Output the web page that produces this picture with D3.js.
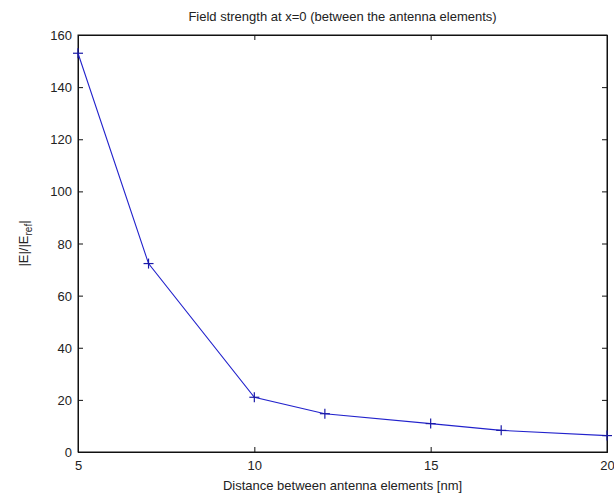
<!DOCTYPE html>
<html><head><meta charset="utf-8">
<script src="https://cdn.jsdelivr.net/npm/d3@7"></script>
<style>body{margin:0;background:#fff}svg{display:block}text{font-family:"Liberation Sans",Arial,sans-serif;fill:#222}</style>
</head><body>
<svg id="c" width="614" height="497"></svg>
<script>
const distances = [5, 7, 10, 12, 15, 17, 20];
const fieldStrength = [153, 72.3, 21, 14.7, 10.9, 8.3, 6.3];
const xTicks = [5, 10, 15, 20];
const yTicks = [0, 20, 40, 60, 80, 100, 120, 140, 160];
const titleText = "Field strength at x=0 (between the antenna elements)";
const xLabelText = "Distance between antenna elements [nm]";

const W = 614, H = 497;
const m = {left: 78, right: 7, top: 35, bottom: 45};
const svg = d3.select("#c");
const x = d3.scaleLinear().domain([5, 20]).range([m.left, W - m.right]);
const y = d3.scaleLinear().domain([0, 160]).range([H - m.bottom, m.top]);
const fs = 13;

// box
svg.append("rect").attr("x", x(5)).attr("y", y(160))
  .attr("width", x(20) - x(5)).attr("height", y(0) - y(160))
  .attr("fill", "#fff").attr("stroke", "#111").attr("stroke-width", 1);

const tl = 5;
// axes with inward ticks
const xb = svg.append("g").attr("transform", `translate(0,${y(0)})`)
  .call(d3.axisBottom(x).tickValues(xTicks).tickSize(-tl).tickPadding(9).tickFormat(d3.format("d")));
const xt = svg.append("g").attr("transform", `translate(0,${y(160)})`)
  .call(d3.axisTop(x).tickValues(xTicks).tickSize(-tl).tickFormat(""));
const yl = svg.append("g").attr("transform", `translate(${x(5)},0)`)
  .call(d3.axisLeft(y).tickValues(yTicks).tickSize(-tl).tickPadding(6).tickFormat(d3.format("d")));
const yr = svg.append("g").attr("transform", `translate(${x(20)},0)`)
  .call(d3.axisRight(y).tickValues(yTicks).tickSize(-tl).tickFormat(""));
[xb, xt, yl, yr].forEach(g => {
  g.select(".domain").attr("stroke", "#111");
  g.selectAll(".tick line").attr("stroke", "#111");
  g.selectAll("text").attr("font-size", fs).attr("font-family", '"Liberation Sans",Arial,sans-serif').attr("fill", "#222");
});
yl.selectAll("text").attr("dy", "0.35em");

// line
svg.append("path").datum(distances.map((d, i) => [d, fieldStrength[i]]))
  .attr("fill", "none").attr("stroke", "#2222cc").attr("stroke-width", 1.1)
  .attr("d", d3.line().x(d => x(d[0])).y(d => y(d[1])));

// + markers
const ms = 5;
const mk = svg.append("g").attr("stroke", "#1a1aa8").attr("stroke-width", 1.2);
distances.forEach((d, i) => {
  const cx = x(d), cy = y(fieldStrength[i]);
  mk.append("line").attr("x1", cx - ms).attr("x2", cx + ms).attr("y1", cy).attr("y2", cy);
  mk.append("line").attr("x1", cx).attr("x2", cx).attr("y1", cy - ms).attr("y2", cy + ms);
});

// title
svg.append("text").attr("x", (x(5) + x(20)) / 2).attr("y", 21)
  .attr("text-anchor", "middle").attr("font-size", fs).text(titleText);
// x label
svg.append("text").attr("x", (x(5) + x(20)) / 2).attr("y", 490)
  .attr("text-anchor", "middle").attr("font-size", fs).text(xLabelText);
// y label
const yt = svg.append("text").attr("transform", `translate(28,${(y(0) + y(160)) / 2}) rotate(-90)`)
  .attr("text-anchor", "middle").attr("font-size", fs);
yt.append("tspan").text("|E|/|E");
yt.append("tspan").attr("dy", 4).attr("font-size", 10).text("ref");
yt.append("tspan").attr("dy", -4).text("|");
</script>
</body></html>
